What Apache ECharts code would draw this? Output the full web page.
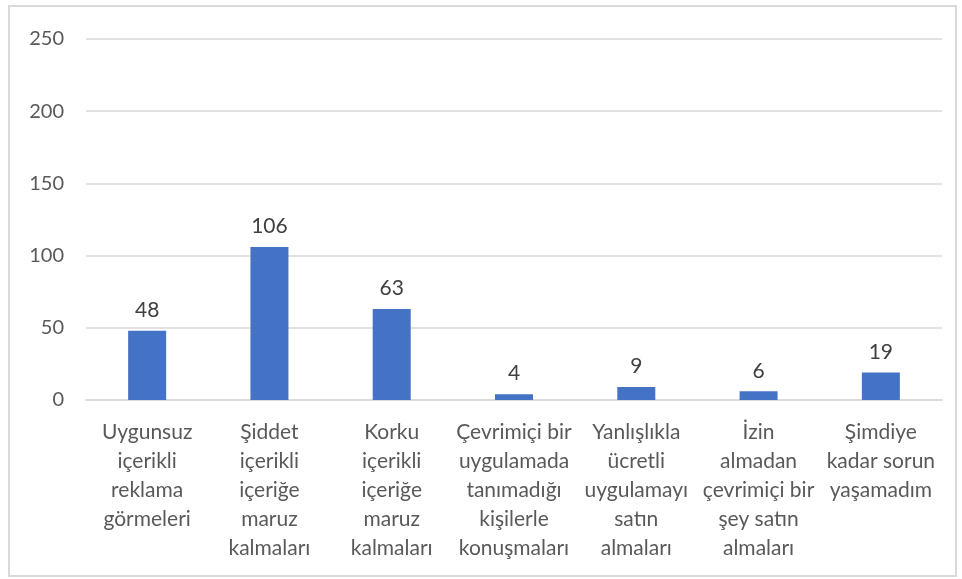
<!DOCTYPE html>
<html>
<head>
<meta charset="utf-8">
<script src="https://cdn.jsdelivr.net/npm/echarts@6/dist/echarts.min.js"></script>
<style>
    html, body { margin: 0; padding: 0; background: #fff; }
    #frame { position: absolute; left: 8px; top: 5px; width: 945px; height: 568px; border: 2px solid #d9d9d9; }
    #chart { width: 962px; height: 579px; position: absolute; left: 0; top: 0; }
</style>
</head>
<body>
<div id="frame"></div>
<div id="chart"></div>
<script>
var categories = [
    "Uygunsuz\niçerikli\nreklama\ngörmeleri",
    "Şiddet\niçerikli\niçeriğe\nmaruz\nkalmaları",
    "Korku\niçerikli\niçeriğe\nmaruz\nkalmaları",
    "Çevrimiçi bir\nuygulamada\ntanımadığı\nkişilerle\nkonuşmaları",
    "Yanlışlıkla\nücretli\nuygulamayı\nsatın\nalmaları",
    "İzin\nalmadan\nçevrimiçi bir\nşey satın\nalmaları",
    "Şimdiye\nkadar sorun\nyaşamadım"
];
var values = [48, 106, 63, 4, 9, 6, 19];
var yTicks = { min: 0, max: 250, interval: 50 };

var barColor = "#4472C4";
var textColor = "#595959";
var fontName = "Lato";

var myChart = echarts.init(document.getElementById("chart"));
var option = {
    animation: false,
    grid: {
        left: 86,
        right: 20,
        top: 39,
        bottom: 179
    },
    xAxis: {
        type: 'category',
        data: categories,
        axisLine: { lineStyle: { color: '#d9d9d9', width: 1.5 } },
        axisTick: { show: false },
        axisLabel: {
            interval: 0,
            color: textColor,
            fontFamily: fontName,
            fontSize: 21,
            lineHeight: 29,
            margin: 18
        }
    },
    yAxis: {
        type: 'value',
        min: yTicks.min,
        max: yTicks.max,
        interval: yTicks.interval,
        axisLine: { show: false },
        axisTick: { show: false },
        splitLine: { lineStyle: { color: '#d9d9d9', width: 1.5 } },
        axisLabel: {
            color: textColor,
            fontFamily: fontName,
            fontSize: 20,
            margin: 22
        }
    },
    series: [{
        type: 'bar',
        data: values,
        barWidth: 38,
        itemStyle: { color: barColor },
        label: {
            show: true,
            position: 'top',
            distance: 10,
            color: '#404040',
            fontFamily: fontName,
            fontSize: 21
        }
    }]
};
myChart.setOption(option);
</script>
</body>
</html>
